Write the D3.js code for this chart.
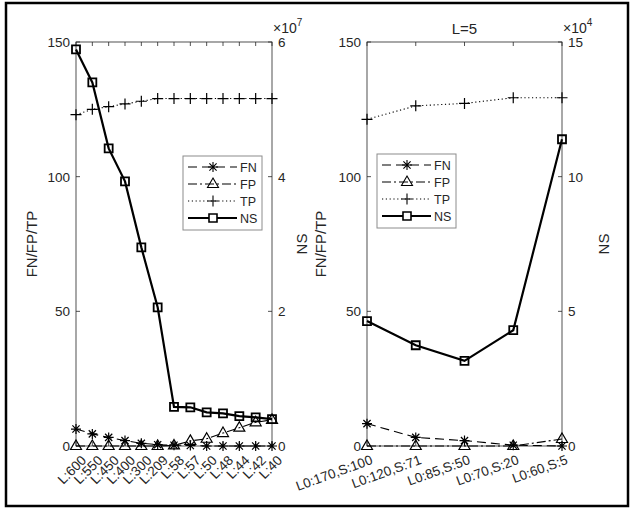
<!DOCTYPE html>
<html>
<head>
<meta charset="utf-8">
<script src="https://cdn.jsdelivr.net/npm/d3@7"></script>
<style>
  body { margin: 0; background: #fff; }
  text { font-family: "Liberation Sans", Arial, sans-serif; fill: #262626; }
</style>
</head>
<body>
<div id="chart"></div>
<script>
// ---- data ----
const leftCats = ["L:600", "L:550", "L:450", "L:400", "L:300", "L:209", "L:58", "L:57", "L:50", "L:48", "L:44", "L:42", "L:40"];
const leftFN = [6.3, 4.5, 3.2, 2.0, 1.0, 0.5, 0.3, 0.2, 0, 0, 0, 0, 0];
const leftFP = [0, 0, 0, 0, 0, 0, 0.2, 1.9, 2.7, 4.8, 6.8, 8.8, 9.7];
const leftTP = [123, 125, 126, 127, 128, 129, 129, 129, 129, 129, 129, 129, 129];
const leftNS = [5.89e7, 5.40e7, 4.42e7, 3.93e7, 2.95e7, 2.06e7, 0.58e7, 0.575e7, 0.50e7, 0.485e7, 0.445e7, 0.425e7, 0.40e7];

const rightCats = ["L0:170,S:100", "L0:120,S:71", "L0:85,S:50", "L0:70,S:20", "L0:60,S:5"];
const rightFN = [8.3, 3.2, 2.0, 0.3, 0];
const rightFP = [0, 0, 0, 0, 2.6];
const rightTP = [121.3, 126.3, 127.2, 129.3, 129.3];
const rightNS = [4.64e4, 3.74e4, 3.16e4, 4.30e4, 11.39e4];

const leftTicks = [0, 50, 100, 150];
const seriesNames = ["FN", "FP", "TP", "NS"];

const W = 633, H = 509;
const svg = d3.select("#chart").append("svg").attr("width", W).attr("height", H);

// outer frame
svg.append("rect")
    .attr("x", 6).attr("y", 3)
    .attr("width", 622).attr("height", 503)
    .attr("fill", "none").attr("stroke", "#000").attr("stroke-width", 2.5);

// marker shapes
const markers = {
    FN: "M0,-5V5M-5,0H5M-3.6,-3.6L3.6,3.6M-3.6,3.6L3.6,-3.6",
    FP: "M0,-6L5.5,3.5L-5.5,3.5Z",
    TP: "M-5.5,0H5.5M0,-5.5V5.5",
    NS: "M-4,-4H4V4H-4Z"
};
const dashes = { FN: "9,5", FP: "9,3,2,3", TP: "1.2,2.6", NS: null };
const widths = { FN: 1.1, FP: 1.1, TP: 1.1, NS: 2.2 };

function drawPanel(cfg) {
    const g = svg.append("g");
    const x = d3.scalePoint().domain(cfg.cats).range([cfg.x0, cfg.x1]).padding(0);
    const yL = d3.scaleLinear().domain([0, 150]).range([cfg.y1, cfg.y0]);
    const yR = d3.scaleLinear().domain([0, cfg.nsMax]).range([cfg.y1, cfg.y0]);

    // box lines
    const axisCol = "#262626";
    g.append("rect")
        .attr("x", cfg.x0).attr("y", cfg.y0)
        .attr("width", cfg.x1 - cfg.x0).attr("height", cfg.y1 - cfg.y0)
        .attr("fill", "none").attr("stroke", axisCol).attr("stroke-width", 0.8);

    // x ticks (top and bottom, inward)
    cfg.cats.forEach(c => {
        g.append("line").attr("x1", x(c)).attr("x2", x(c))
            .attr("y1", cfg.y0).attr("y2", cfg.y0 + 4)
            .attr("stroke", axisCol).attr("stroke-width", 0.8);
        g.append("line").attr("x1", x(c)).attr("x2", x(c))
            .attr("y1", cfg.y1).attr("y2", cfg.y1 - 4)
            .attr("stroke", axisCol).attr("stroke-width", 0.8);
        g.append("text")
            .attr("transform", `translate(${x(c) + cfg.lblDx},${cfg.y1 + 8}) rotate(${cfg.rot})`)
            .attr("text-anchor", "end")
            .attr("dy", "0.75em")
            .style("font-size", "13.5px")
            .text(c);
    });

    // left y ticks
    leftTicks.forEach(t => {
        g.append("line").attr("x1", cfg.x0).attr("x2", cfg.x0 + 4)
            .attr("y1", yL(t)).attr("y2", yL(t))
            .attr("stroke", axisCol).attr("stroke-width", 0.8);
        g.append("text")
            .attr("x", cfg.x0 - 6).attr("y", yL(t))
            .attr("dy", "0.36em").attr("text-anchor", "end")
            .style("font-size", "13.5px")
            .text(t);
    });

    // right y ticks
    cfg.nsTicks.forEach(t => {
        g.append("line").attr("x1", cfg.x1).attr("x2", cfg.x1 - 4)
            .attr("y1", yR(t)).attr("y2", yR(t))
            .attr("stroke", axisCol).attr("stroke-width", 0.8);
        g.append("text")
            .attr("x", cfg.x1 + 6).attr("y", yR(t))
            .attr("dy", "0.36em")
            .style("font-size", "13.5px")
            .text(t / cfg.nsExp);
    });

    // exponent label
    const ex = g.append("text")
        .attr("x", cfg.x1 + 1).attr("y", cfg.y0 - 9)
        .style("font-size", "14px");
    ex.append("tspan").text("\u00d710");
    ex.append("tspan").attr("dy", -7).style("font-size", "10px").text(cfg.expText);

    // axis labels
    g.append("text")
        .attr("transform", `translate(${cfg.yLabelLx},${(cfg.y0 + cfg.y1) / 2}) rotate(-90)`)
        .attr("text-anchor", "middle")
        .style("font-size", "15px")
        .text("FN/FP/TP");
    g.append("text")
        .attr("transform", `translate(${cfg.yLabelRx},${(cfg.y0 + cfg.y1) / 2}) rotate(-90)`)
        .attr("text-anchor", "middle")
        .style("font-size", "15px")
        .text("NS");

    if (cfg.title) {
        g.append("text")
            .attr("x", (cfg.x0 + cfg.x1) / 2).attr("y", cfg.y0 - 8)
            .attr("text-anchor", "middle")
            .style("font-size", "15px")
            .text(cfg.title);
    }

    // series
    const series = [
        { name: "FN", vals: cfg.fn, y: yL },
        { name: "FP", vals: cfg.fp, y: yL },
        { name: "TP", vals: cfg.tp, y: yL },
        { name: "NS", vals: cfg.ns, y: yR }
    ];
    series.forEach(s => {
        const line = d3.line().x((d, i) => x(cfg.cats[i])).y(d => s.y(d));
        g.append("path")
            .attr("d", line(s.vals))
            .attr("fill", "none")
            .attr("stroke", "#000")
            .attr("stroke-width", widths[s.name])
            .attr("stroke-dasharray", dashes[s.name]);
        g.selectAll(null)
            .data(s.vals)
            .enter()
            .append("path")
            .attr("d", markers[s.name])
            .attr("transform", (d, i) => `translate(${x(cfg.cats[i])},${s.y(d)})`)
            .attr("fill", "none")
            .attr("stroke", "#000")
            .attr("stroke-width", s.name === "NS" ? 1.8 : 1.2);
    });

    // legend
    const lg = g.append("g").attr("transform", `translate(${cfg.legX},${cfg.legY})`);
    lg.append("rect").attr("width", 79).attr("height", 74)
        .attr("fill", "#fff").attr("stroke", "#8c8c8c").attr("stroke-width", 1);
    seriesNames.forEach((n, i) => {
        const ry = 11 + i * 17;
        lg.append("line").attr("x1", 5).attr("x2", 54).attr("y1", ry).attr("y2", ry)
            .attr("stroke", "#000").attr("stroke-width", widths[n])
            .attr("stroke-dasharray", dashes[n]);
        lg.append("path").attr("d", markers[n])
            .attr("transform", `translate(30,${ry})`)
            .attr("fill", n === "NS" ? "#fff" : "none")
            .attr("stroke", "#000").attr("stroke-width", n === "NS" ? 1.6 : 1.1);
        lg.append("text").attr("x", 57).attr("y", ry).attr("dy", "0.36em")
            .style("font-size", "12.5px").text(n);
    });
}

drawPanel({
    cats: leftCats, fn: leftFN, fp: leftFP, tp: leftTP, ns: leftNS,
    x0: 76, x1: 272, y0: 42, y1: 446,
    nsMax: 6e7, nsTicks: [0, 2e7, 4e7, 6e7], nsExp: 1e7, expText: "7",
    rot: -45, lblDx: 4,
    yLabelLx: 37, yLabelRx: 307,
    legX: 183, legY: 156
});

drawPanel({
    cats: rightCats, fn: rightFN, fp: rightFP, tp: rightTP, ns: rightNS,
    x0: 367, x1: 562, y0: 42, y1: 446,
    nsMax: 15e4, nsTicks: [0, 5e4, 10e4, 15e4], nsExp: 1e4, expText: "4",
    rot: -20, lblDx: 3,
    yLabelLx: 326, yLabelRx: 609,
    title: "L=5",
    legX: 377, legY: 154
});
</script>
</body>
</html>
